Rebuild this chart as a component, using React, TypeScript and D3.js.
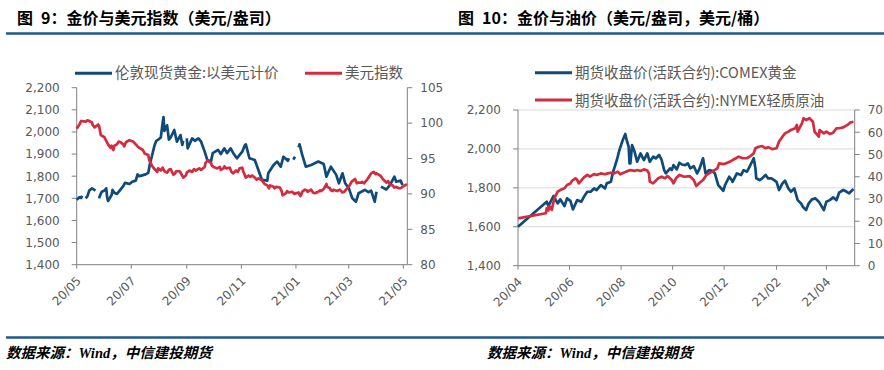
import React from "react";
import * as d3 from "d3";

type Pt = [string, number | null];

// ---------- Figure 9 data ----------
const londonGold: Pt[] = [
  ["2020-05-01", 1693], ["2020-05-04", 1705], ["2020-05-06", 1702], ["2020-05-07", 1712], ["2020-05-08", null],
  ["2020-05-11", 1700], ["2020-05-13", 1710], ["2020-05-15", 1735], ["2020-05-18", 1745], ["2020-05-20", 1740],
  ["2020-05-22", 1735], ["2020-05-25", null], ["2020-05-26", 1700], ["2020-05-27", 1712], ["2020-05-29", 1730],
  ["2020-06-01", 1735], ["2020-06-03", 1745], ["2020-06-04", 1705], ["2020-06-05", 1688], ["2020-06-09", 1715],
  ["2020-06-10", 1738], ["2020-06-12", 1725], ["2020-06-15", 1720], ["2020-06-18", 1735], ["2020-06-22", 1755],
  ["2020-06-24", 1770], ["2020-06-29", 1765], ["2020-07-02", 1775], ["2020-07-06", 1780], ["2020-07-08", 1808],
  ["2020-07-10", 1800], ["2020-07-14", 1805], ["2020-07-17", 1808], ["2020-07-20", 1815], ["2020-07-22", 1860],
  ["2020-07-24", 1890], ["2020-07-27", 1940], ["2020-07-29", 1960], ["2020-07-31", 1965], ["2020-08-03", 1975],
  ["2020-08-05", 2040], ["2020-08-06", 2067], ["2020-08-07", 2005], ["2020-08-10", 2030], ["2020-08-12", 1965],
  ["2020-08-14", 1975], ["2020-08-18", 2009], ["2020-08-21", 1956], ["2020-08-25", 1986], ["2020-08-27", 1941],
  ["2020-08-28", 1960], ["2020-08-31", null], ["2020-09-01", 1971], ["2020-09-02", 1926], ["2020-09-07", 1971],
  ["2020-09-10", 1960], ["2020-09-14", 1971], ["2020-09-17", 1956], ["2020-09-21", 1911], ["2020-09-24", 1873],
  ["2020-09-28", 1866], ["2020-09-30", 1904], ["2020-10-06", 1919], ["2020-10-09", 1900], ["2020-10-13", 1926],
  ["2020-10-16", 1904], ["2020-10-20", 1926], ["2020-10-23", 1904], ["2020-10-27", 1881], ["2020-11-02", 1911],
  ["2020-11-05", 1941], ["2020-11-06", 1944], ["2020-11-10", 1881], ["2020-11-16", 1873], ["2020-11-20", 1828],
  ["2020-11-24", 1783], ["2020-11-30", 1780], ["2020-12-01", 1813], ["2020-12-07", 1851], ["2020-12-11", 1866],
  ["2020-12-15", 1843], ["2020-12-18", 1888], ["2020-12-23", 1870], ["2020-12-24", 1881], ["2020-12-25", null],
  ["2020-12-29", 1875], ["2020-12-31", 1888], ["2021-01-01", null], ["2021-01-04", 1930], ["2021-01-05", 1944],
  ["2021-01-08", 1896], ["2021-01-12", 1843], ["2021-01-18", 1851], ["2021-01-26", 1866], ["2021-02-01", 1855],
  ["2021-02-04", 1798], ["2021-02-09", 1843], ["2021-02-15", 1806], ["2021-02-18", 1768], ["2021-02-22", 1813],
  ["2021-02-25", 1768], ["2021-03-01", 1746], ["2021-03-05", 1700], ["2021-03-09", 1685], ["2021-03-12", 1723],
  ["2021-03-19", 1738], ["2021-03-23", 1728], ["2021-03-26", 1735], ["2021-03-30", 1685], ["2021-04-01", 1730],
  ["2021-04-02", null], ["2021-04-06", 1753], ["2021-04-12", 1740], ["2021-04-16", 1760], ["2021-04-21", 1798],
  ["2021-04-23", 1775], ["2021-04-28", 1780], ["2021-04-30", 1760],
];

const dollarIndex: Pt[] = [
  ["2020-05-01", 99.2], ["2020-05-04", 99.8], ["2020-05-06", 100.3], ["2020-05-11", 100.2], ["2020-05-13", 100.4],
  ["2020-05-15", 100.3], ["2020-05-18", 100.1], ["2020-05-19", 99.7], ["2020-05-21", 99.4], ["2020-05-25", 99.8],
  ["2020-05-26", 99.6], ["2020-05-28", 98.3], ["2020-06-01", 98.0], ["2020-06-03", 97.5], ["2020-06-05", 97.0],
  ["2020-06-08", 96.5], ["2020-06-09", 96.8], ["2020-06-11", 96.2], ["2020-06-12", 96.8], ["2020-06-15", 97.0],
  ["2020-06-17", 97.4], ["2020-06-19", 97.3], ["2020-06-22", 97.0], ["2020-06-23", 96.7], ["2020-06-25", 97.3],
  ["2020-06-29", 97.6], ["2020-06-30", 97.5], ["2020-07-03", 97.4], ["2020-07-06", 97.0], ["2020-07-08", 96.7],
  ["2020-07-10", 96.5], ["2020-07-14", 96.2], ["2020-07-16", 95.7], ["2020-07-20", 95.5], ["2020-07-21", 94.8],
  ["2020-07-24", 94.0], ["2020-07-27", 93.5], ["2020-07-28", 93.4], ["2020-07-30", 93.1], ["2020-07-31", 93.6],
  ["2020-08-03", 93.3], ["2020-08-05", 93.7], ["2020-08-07", 93.2], ["2020-08-10", 93.0], ["2020-08-12", 93.4],
  ["2020-08-14", 93.5], ["2020-08-17", 92.7], ["2020-08-19", 92.9], ["2020-08-20", 93.2], ["2020-08-24", 93.2],
  ["2020-08-26", 92.8], ["2020-08-28", 92.3], ["2020-08-31", 92.6], ["2020-09-01", 93.0], ["2020-09-04", 93.3],
  ["2020-09-07", 93.1], ["2020-09-09", 93.5], ["2020-09-11", 93.3], ["2020-09-15", 93.6], ["2020-09-17", 93.4],
  ["2020-09-21", 93.8], ["2020-09-22", 94.4], ["2020-09-24", 94.7], ["2020-09-28", 94.4], ["2020-09-29", 94.0],
  ["2020-10-01", 93.8], ["2020-10-05", 93.6], ["2020-10-08", 93.8], ["2020-10-09", 93.4], ["2020-10-12", 93.6],
  ["2020-10-13", 93.9], ["2020-10-15", 93.6], ["2020-10-19", 93.7], ["2020-10-21", 93.1], ["2020-10-23", 92.9],
  ["2020-10-26", 93.3], ["2020-10-28", 93.1], ["2020-10-30", 93.6], ["2020-11-02", 93.7], ["2020-11-03", 93.2],
  ["2020-11-05", 92.6], ["2020-11-06", 92.3], ["2020-11-09", 92.6], ["2020-11-11", 92.4], ["2020-11-13", 92.6],
  ["2020-11-16", 92.3], ["2020-11-18", 92.0], ["2020-11-20", 92.2], ["2020-11-24", 91.9], ["2020-11-27", 91.4],
  ["2020-11-30", 91.2], ["2020-12-02", 90.8], ["2020-12-03", 91.2], ["2020-12-07", 91.0], ["2020-12-08", 90.8],
  ["2020-12-10", 91.0], ["2020-12-14", 90.9], ["2020-12-16", 90.4], ["2020-12-17", 89.8], ["2020-12-21", 90.1],
  ["2020-12-22", 90.4], ["2020-12-24", 90.2], ["2020-12-28", 90.3], ["2020-12-30", 90.0], ["2021-01-04", 90.2],
  ["2021-01-05", 89.9], ["2021-01-06", 89.7], ["2021-01-07", 89.9], ["2021-01-08", 90.3], ["2021-01-11", 90.6],
  ["2021-01-13", 90.5], ["2021-01-14", 90.3], ["2021-01-18", 90.6], ["2021-01-20", 90.2], ["2021-01-22", 90.1],
  ["2021-01-26", 90.3], ["2021-01-28", 90.5], ["2021-01-29", 90.4], ["2021-02-01", 90.7], ["2021-02-02", 90.9],
  ["2021-02-04", 91.4], ["2021-02-05", 91.0], ["2021-02-08", 90.8], ["2021-02-09", 90.5], ["2021-02-11", 90.4],
  ["2021-02-12", 90.6], ["2021-02-16", 90.4], ["2021-02-19", 90.6], ["2021-02-22", 90.2], ["2021-02-24", 90.3],
  ["2021-02-26", 90.6], ["2021-03-02", 91.2], ["2021-03-04", 91.7], ["2021-03-08", 92.1], ["2021-03-10", 91.5],
  ["2021-03-12", 91.6], ["2021-03-15", 91.6], ["2021-03-16", 91.7], ["2021-03-18", 91.5], ["2021-03-22", 92.1],
  ["2021-03-24", 92.5], ["2021-03-26", 92.9], ["2021-03-29", 93.1], ["2021-03-31", 92.8], ["2021-04-01", 92.9],
  ["2021-04-05", 92.6], ["2021-04-07", 92.3], ["2021-04-08", 92.1], ["2021-04-12", 91.6], ["2021-04-14", 91.8],
  ["2021-04-16", 91.3], ["2021-04-19", 91.2], ["2021-04-21", 90.9], ["2021-04-23", 91.0], ["2021-04-26", 90.8],
  ["2021-04-28", 90.8], ["2021-04-30", 91.0], ["2021-05-04", 91.3], ["2021-05-05", 91.2],
];

// ---------- Figure 10 data ----------
const comexGold: Pt[] = [
  ["2020-04-01", 1600], ["2020-05-05", 1729], ["2020-05-07", 1706], ["2020-05-11", 1741], ["2020-05-13", 1758],
  ["2020-05-18", 1720], ["2020-05-21", 1741], ["2020-05-26", 1706], ["2020-05-29", 1746], ["2020-06-02", 1733],
  ["2020-06-05", 1689], ["2020-06-10", 1737], ["2020-06-15", 1729], ["2020-06-18", 1754], ["2020-06-22", 1780],
  ["2020-06-26", 1780], ["2020-06-30", 1797], ["2020-07-03", 1789], ["2020-07-08", 1814], ["2020-07-13", 1797],
  ["2020-07-15", 1823], ["2020-07-20", 1831], ["2020-07-22", 1874], ["2020-07-27", 1943], ["2020-07-30", 1994],
  ["2020-08-03", 2046], ["2020-08-06", 2077], ["2020-08-07", 2055], ["2020-08-10", 2011], ["2020-08-11", 1926],
  ["2020-08-12", 1926], ["2020-08-14", 2020], ["2020-08-17", 1985], ["2020-08-20", 1934], ["2020-08-24", 1977],
  ["2020-08-28", 1943], ["2020-09-01", 1977], ["2020-09-04", 1934], ["2020-09-08", 1960], ["2020-09-11", 1951],
  ["2020-09-15", 1969], ["2020-09-18", 1943], ["2020-09-21", 1891], ["2020-09-23", 1874], ["2020-09-28", 1900],
  ["2020-09-30", 1891], ["2020-10-02", 1917], ["2020-10-06", 1895], ["2020-10-09", 1929], ["2020-10-12", 1920],
  ["2020-10-16", 1917], ["2020-10-19", 1926], ["2020-10-22", 1900], ["2020-10-26", 1912], ["2020-10-30", 1874],
  ["2020-11-02", 1900], ["2020-11-06", 1952], ["2020-11-09", 1874], ["2020-11-13", 1891], ["2020-11-17", 1888],
  ["2020-11-20", 1874], ["2020-11-24", 1814], ["2020-11-30", 1785], ["2020-12-02", 1814], ["2020-12-07", 1857],
  ["2020-12-10", 1840], ["2020-12-11", 1831], ["2020-12-16", 1874], ["2020-12-21", 1866], ["2020-12-24", 1891],
  ["2020-12-28", 1883], ["2020-12-31", 1908], ["2021-01-05", 1952], ["2021-01-07", 1900], ["2021-01-08", 1849],
  ["2021-01-12", 1840], ["2021-01-15", 1849], ["2021-01-19", 1866], ["2021-01-22", 1849], ["2021-01-26", 1849],
  ["2021-02-01", 1831], ["2021-02-04", 1789], ["2021-02-08", 1823], ["2021-02-11", 1837], ["2021-02-15", 1797],
  ["2021-02-18", 1780], ["2021-02-22", 1797], ["2021-02-26", 1737], ["2021-03-02", 1720], ["2021-03-04", 1703],
  ["2021-03-08", 1686], ["2021-03-11", 1720], ["2021-03-15", 1741], ["2021-03-19", 1746], ["2021-03-23", 1729],
  ["2021-03-29", 1686], ["2021-04-01", 1729], ["2021-04-05", 1737], ["2021-04-09", 1751], ["2021-04-13", 1737],
  ["2021-04-16", 1775], ["2021-04-21", 1789], ["2021-04-23", 1785], ["2021-04-28", 1772], ["2021-05-03", 1794],
];

const nymexOil: Pt[] = [
  ["2020-04-01", 21.3], ["2020-05-04", 23.6], ["2020-05-05", 25.8], ["2020-05-07", 24.8], ["2020-05-08", 26.8],
  ["2020-05-11", 25.1], ["2020-05-14", 30.3], ["2020-05-18", 33.3], ["2020-05-21", 34.0], ["2020-05-26", 34.8],
  ["2020-05-29", 36.3], ["2020-06-02", 37.0], ["2020-06-04", 38.2], ["2020-06-08", 39.3], ["2020-06-10", 38.6],
  ["2020-06-12", 37.0], ["2020-06-18", 39.7], ["2020-06-22", 40.8], ["2020-06-25", 40.0], ["2020-06-30", 41.2],
  ["2020-07-03", 40.8], ["2020-07-08", 41.5], ["2020-07-13", 41.1], ["2020-07-16", 41.5], ["2020-07-20", 41.8],
  ["2020-07-24", 41.5], ["2020-07-28", 42.3], ["2020-07-31", 41.1], ["2020-08-04", 41.8], ["2020-08-07", 42.3],
  ["2020-08-12", 43.0], ["2020-08-17", 42.6], ["2020-08-20", 43.0], ["2020-08-24", 42.6], ["2020-08-28", 43.3],
  ["2020-09-01", 42.8], ["2020-09-03", 41.5], ["2020-09-04", 37.8], ["2020-09-08", 37.0], ["2020-09-10", 37.8],
  ["2020-09-14", 39.3], ["2020-09-18", 40.0], ["2020-09-22", 39.3], ["2020-09-25", 40.3], ["2020-09-30", 38.5],
  ["2020-10-02", 37.0], ["2020-10-05", 39.3], ["2020-10-09", 40.8], ["2020-10-15", 40.0], ["2020-10-21", 40.3],
  ["2020-10-26", 38.5], ["2020-10-29", 35.8], ["2020-11-02", 37.3], ["2020-11-06", 38.5], ["2020-11-10", 40.8],
  ["2020-11-13", 41.5], ["2020-11-17", 42.3], ["2020-11-23", 43.8], ["2020-11-25", 46.0], ["2020-11-30", 45.7],
  ["2020-12-03", 46.0], ["2020-12-08", 46.8], ["2020-12-11", 47.5], ["2020-12-15", 48.3], ["2020-12-18", 49.0],
  ["2020-12-23", 48.3], ["2020-12-28", 48.3], ["2020-12-31", 49.0], ["2021-01-05", 50.5], ["2021-01-07", 52.8],
  ["2021-01-11", 53.5], ["2021-01-15", 53.8], ["2021-01-19", 52.8], ["2021-01-22", 53.3], ["2021-01-27", 52.4],
  ["2021-02-01", 52.8], ["2021-02-04", 55.8], ["2021-02-08", 58.0], ["2021-02-11", 59.5], ["2021-02-15", 60.3],
  ["2021-02-18", 61.0], ["2021-02-23", 61.8], ["2021-02-25", 63.3], ["2021-02-26", 60.3], ["2021-03-03", 64.0],
  ["2021-03-05", 66.3], ["2021-03-08", 65.5], ["2021-03-12", 66.3], ["2021-03-16", 64.7], ["2021-03-18", 60.3],
  ["2021-03-23", 58.0], ["2021-03-24", 61.0], ["2021-03-29", 59.5], ["2021-04-01", 60.3], ["2021-04-05", 59.2],
  ["2021-04-09", 59.8], ["2021-04-13", 61.8], ["2021-04-16", 61.8], ["2021-04-21", 62.2], ["2021-04-26", 63.3],
  ["2021-04-29", 64.3], ["2021-05-03", 64.7],
];

// ---------- axes / labels ----------
const fig9XTicks = ["2020-05-01", "2020-07-01", "2020-09-01", "2020-11-01", "2021-01-01", "2021-03-01", "2021-05-01"];
const fig10XTicks = ["2020-04-01", "2020-06-01", "2020-08-01", "2020-10-01", "2020-12-01", "2021-02-01", "2021-04-01"];
const fig9LeftTicks = [1400, 1500, 1600, 1700, 1800, 1900, 2000, 2100, 2200];
const fig9RightTicks = [80, 85, 90, 95, 100, 105];
const fig10LeftTicks = [1400, 1600, 1800, 2000, 2200];
const fig10RightTicks = [0, 10, 20, 30, 40, 50, 60, 70];

const fig9Title = "图\u20029：金价与美元指数（美元/盎司）";
const fig10Title = "图\u200210：金价与油价（美元/盎司，美元/桶）";
const fig9Legend = ["伦敦现货黄金:以美元计价", "美元指数"];
const fig10Legend = ["期货收盘价(活跃合约):COMEX黄金", "期货收盘价(活跃合约):NYMEX轻质原油"];

const parse = d3.timeParse("%Y-%m-%d");
const fmtMonth = d3.timeFormat("%y/%m");
const fmtNum = d3.format(",");

const CJK = "'Noto Sans CJK SC', 'Noto Sans', sans-serif";
const NUM = "'DejaVu Sans', Verdana, sans-serif";
const BLUE = "#0f4a7b";
const RED = "#d42b3f";
const AXIS = "#808080";
const TXT = "#595959";
const GRID = "#d9d9d9";
const RULE = "#1d5a8c";

type Box = { l: number; r: number; t: number; b: number };

function Panel(props: {
  box: Box;
  xStart: string;
  xEnd: Date;
  xTicks: string[];
  leftTicks: number[];
  rightTicks: number[];
  left: Pt[];
  right: Pt[];
  grid: boolean;
}) {
  const { box, xStart, xEnd, xTicks, leftTicks, rightTicks, left, right, grid } = props;
  const x = d3.scaleTime().domain([parse(xStart)!, xEnd]).range([box.l, box.r]);
  const yL = d3.scaleLinear().domain(d3.extent(leftTicks) as [number, number]).range([box.b, box.t]);
  const yR = d3.scaleLinear().domain(d3.extent(rightTicks) as [number, number]).range([box.b, box.t]);
  const mk = (y: d3.ScaleLinear<number, number>) =>
    d3
      .line<Pt>()
      .defined((d) => d[1] != null)
      .x((d) => x(parse(d[0])!))
      .y((d) => y(d[1] as number));
  return (
    <g>
      {grid &&
        leftTicks.slice(1).map((v) => (
          <line key={"g" + v} x1={box.l} x2={box.r} y1={yL(v)} y2={yL(v)} stroke={GRID} strokeWidth={1} />
        ))}
      <line x1={box.l} x2={box.l} y1={box.t} y2={box.b} stroke={AXIS} strokeWidth={1} />
      <line x1={box.r} x2={box.r} y1={box.t} y2={box.b} stroke={AXIS} strokeWidth={1} />
      <line x1={box.l} x2={box.r} y1={box.b} y2={box.b} stroke={AXIS} strokeWidth={1} />
      {leftTicks.map((v) => (
        <g key={"l" + v}>
          <line x1={box.l - 5} x2={box.l} y1={yL(v)} y2={yL(v)} stroke={AXIS} />
          <text x={box.l - 17} y={yL(v)} dy="0.36em" textAnchor="end" fontFamily={NUM} fontSize={12} fill={TXT}>
            {fmtNum(v)}
          </text>
        </g>
      ))}
      {rightTicks.map((v) => (
        <g key={"r" + v}>
          <line x1={box.r} x2={box.r + 5} y1={yR(v)} y2={yR(v)} stroke={AXIS} />
          <text x={box.r + 13} y={yR(v)} dy="0.36em" textAnchor="start" fontFamily={NUM} fontSize={12} fill={TXT}>
            {v}
          </text>
        </g>
      ))}
      {xTicks.map((s) => {
        const px = x(parse(s)!);
        return (
          <g key={"x" + s}>
            <line x1={px} x2={px} y1={box.b} y2={box.b + 4} stroke={AXIS} />
            <text
              transform={`translate(${px + 5},${box.b + 17}) rotate(-45)`}
              textAnchor="end"
              fontFamily={NUM}
              fontSize={12}
              fill={TXT}
            >
              {fmtMonth(parse(s)!)}
            </text>
          </g>
        );
      })}
      <path d={mk(yL)(left) || ""} fill="none" stroke={BLUE} strokeWidth={2.7} strokeLinejoin="round" />
      <path d={mk(yR)(right) || ""} fill="none" stroke={RED} strokeWidth={2.7} strokeLinejoin="round" />
    </g>
  );
}

function Source({ x }: { x: number }) {
  return (
    <text x={x} y={358} fontFamily={CJK} fontSize={14.5} fontWeight={700} fontStyle="italic" fill="#000">
      数据来源：
      <tspan fontFamily="'Liberation Serif', 'DejaVu Serif', serif">Wind</tspan>
      ，中信建投期货
    </text>
  );
}

export default function App() {
  const legendText = { fontFamily: CJK, fontSize: 14.5, fill: TXT } as const;
  return (
    <svg
      width={884}
      height={370}
      style={{ position: "absolute", left: 0, top: 0, background: "#fff" }}
      xmlns="http://www.w3.org/2000/svg"
    >
      <rect width={884} height={370} fill="#fff" />
      <text x={17} y={24} fontFamily={CJK} fontSize={16} fontWeight={700} fill="#000">
        {fig9Title}
      </text>
      <text x={458} y={24} fontFamily={CJK} fontSize={16} fontWeight={700} fill="#000">
        {fig10Title}
      </text>
      <line x1={6} x2={884} y1={33.5} y2={33.5} stroke={RULE} strokeWidth={2.4} />
      <line x1={6} x2={884} y1={337.5} y2={337.5} stroke={RULE} strokeWidth={2.4} />

      {/* Figure 9 */}
      <line x1={75} x2={112} y1={73.3} y2={73.3} stroke={BLUE} strokeWidth={3} />
      <text x={115} y={78} {...legendText}>{fig9Legend[0]}</text>
      <line x1={305} x2={342} y1={73.3} y2={73.3} stroke={RED} strokeWidth={3} />
      <text x={345} y={78} {...legendText}>{fig9Legend[1]}</text>
      <Panel
        box={{ l: 76.7, r: 407.3, t: 87.7, b: 264.7 }}
        xStart="2020-05-01"
        xEnd={new Date(2021, 4, 5, 10)}
        xTicks={fig9XTicks}
        leftTicks={fig9LeftTicks}
        rightTicks={fig9RightTicks}
        left={londonGold}
        right={dollarIndex}
        grid={false}
      />

      {/* Figure 10 */}
      <line x1={535} x2={572} y1={72.7} y2={72.7} stroke={BLUE} strokeWidth={3} />
      <text x={575} y={78} {...legendText}>{fig10Legend[0]}</text>
      <line x1={535} x2={572} y1={100} y2={100} stroke={RED} strokeWidth={3} />
      <text x={575} y={105.5} {...legendText}>{fig10Legend[1]}</text>
      <Panel
        box={{ l: 518, r: 854.7, t: 110, b: 265.7 }}
        xStart="2020-04-01"
        xEnd={new Date(2021, 4, 4, 12)}
        xTicks={fig10XTicks}
        leftTicks={fig10LeftTicks}
        rightTicks={fig10RightTicks}
        left={comexGold}
        right={nymexOil}
        grid={true}
      />

      <Source x={6} />
      <Source x={487} />
    </svg>
  );
}
